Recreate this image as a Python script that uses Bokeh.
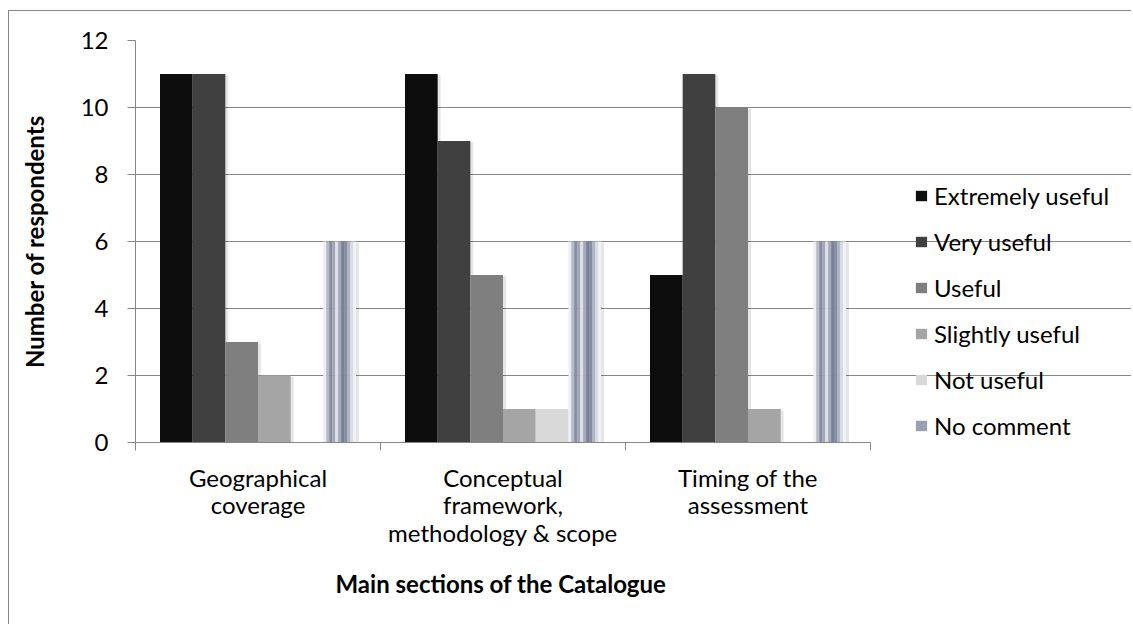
from bokeh.plotting import figure
from bokeh.models import FixedTicker, Legend, LegendItem, Range1d, Title
from bokeh.embed import file_html
from bokeh.resources import INLINE

# ---- data ----
categories = ["Geographical\ncoverage", "Conceptual\nframework,\nmethodology & scope", "Timing of the\nassessment"]
series = ["Extremely useful", "Very useful", "Useful", "Slightly useful", "Not useful", "No comment"]
extremely_useful = [11, 11, 5]
very_useful = [11, 9, 11]
useful = [3, 5, 10]
slightly_useful = [2, 1, 1]
not_useful = [0, 1, 0]
no_comment = [6, 6, 6]
y_ticks = [0, 2, 4, 6, 8, 10, 12]

values = [extremely_useful, very_useful, useful, slightly_useful, not_useful, no_comment]
colors = ["#0d0d0d", "#404040", "#7f7f7f", "#a5a5a5", "#d9d9d9", "#9ba1b3"]
stripe_colors = ["#eceef3", "#b5bac7", "#868da2", "#a0a6b7", "#dde0e7", "#a6abbb",
                 "#79819a", "#868da3", "#b0b5c4", "#d7dae2", "#f1f2f5"]

FONT = "Lato"
FS = "24px"
GRID = "#868686"

W, H = 1123, 614
LEFT, TOP, BOTTOM = 126, 29, 183
PLOT_W = 735            # pixel width of the 3 category slots
n_cat = len(categories)
x_end = n_cat * (W - LEFT) / PLOT_W   # frame extends to the right to host the legend

p = figure(width=W, height=H, output_backend="svg", toolbar_location=None,
           x_range=Range1d(0, x_end), y_range=Range1d(0, 12),
           min_border_left=LEFT, min_border_right=0, min_border_top=TOP, min_border_bottom=BOTTOM)
p.outline_line_color = None
p.styles = {"border-top": "1px solid #868686", "border-left": "1px solid #868686",
            "margin-left": "8px", "margin-top": "10px"}

n = len(series)
w = 1.0 / 7.5
group_centers = [i + 0.5 for i in range(n_cat)]

legend_items = []
for k, (name, vals, col) in enumerate(zip(series, values, colors)):
    off = (k - (n - 1) / 2) * w
    xs = [c + off for c in group_centers]
    # soft shadow
    p.vbar(x=[x + 0.012 for x in xs], top=[max(v - 0.04, 0) for v in vals], bottom=-0.12,
           width=w, fill_color="#000000", fill_alpha=0.10, line_color=None)
    if name == "No comment":
        sw = w / len(stripe_colors)
        for j, sc in enumerate(stripe_colors):
            sx = [x + (j - (len(stripe_colors) - 1) / 2) * sw for x in xs]
            p.vbar(x=sx, top=vals, width=sw * 1.02, fill_color=sc, line_color=None)
        legend_r = p.vbar(x=[-5], top=[1], width=w, fill_color=col, line_color=None)
        legend_items.append(LegendItem(label=name, renderers=[legend_r]))
    else:
        r = p.vbar(x=xs, top=vals, width=w, fill_color=col, line_color=None)
        legend_items.append(LegendItem(label=name, renderers=[r]))

# grid
p.xgrid.visible = False
p.ygrid.ticker = FixedTicker(ticks=y_ticks)
p.ygrid.grid_line_color = GRID
p.ygrid.grid_line_width = 1
p.ygrid.bounds = (0, n_cat)

# y axis
p.yaxis.ticker = FixedTicker(ticks=y_ticks)
p.yaxis.axis_label = "Number of respondents"
p.yaxis.axis_label_text_font = FONT
p.yaxis.axis_label_text_font_size = FS
p.yaxis.axis_label_text_font_style = "bold"
p.yaxis.axis_label_text_color = "black"
p.yaxis.axis_label_standoff = 29
p.yaxis.major_label_text_font = FONT
p.yaxis.major_label_text_font_size = FS
p.yaxis.major_label_text_color = "black"
p.yaxis.major_label_standoff = 19
p.yaxis.axis_line_color = GRID
p.yaxis.major_tick_line_color = GRID
p.yaxis.major_tick_out = 8
p.yaxis.major_tick_in = 0
p.yaxis.minor_tick_line_color = None

# x axis: labels at group centers, ticks at group boundaries (minor ticks)
p.xaxis.bounds = (0, n_cat)
p.xaxis.ticker = FixedTicker(ticks=group_centers, minor_ticks=list(range(n_cat + 1)))
p.xaxis.major_label_overrides = {c: lab for c, lab in zip(group_centers, categories)}
p.xaxis.major_label_text_font = FONT
p.xaxis.major_label_text_font_size = FS
p.xaxis.major_label_text_color = "black"
p.xaxis.major_label_text_align = "center"
p.xaxis.major_label_text_line_height = 0.95
p.xaxis.major_label_standoff = 12
p.xaxis.major_label_orientation = "horizontal"
p.xaxis.axis_line_color = GRID
p.xaxis.major_tick_line_color = None
p.xaxis.minor_tick_line_color = GRID
p.xaxis.minor_tick_out = 8
p.xaxis.minor_tick_in = 0

# x-axis title, centred under the three category slots
xtitle = Title(text="Main sections of the Catalogue", align="left", offset=200, standoff=34,
               text_font=FONT, text_font_size=FS, text_font_style="bold", text_color="black")
p.add_layout(xtitle, "below")

legend = Legend(items=legend_items, location=(779, 2), orientation="vertical",
                glyph_width=14, glyph_height=13, label_standoff=6, spacing=17,
                padding=0, margin=0, border_line_color=None, background_fill_alpha=0,
                label_text_font=FONT, label_text_font_size=FS, label_text_color="black")
p.add_layout(legend, "center")

open("out.html", "w").write(file_html(p, INLINE))
